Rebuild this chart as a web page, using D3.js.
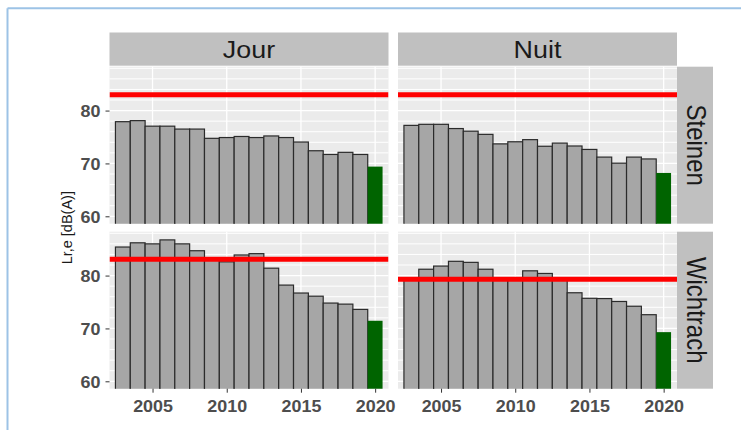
<!DOCTYPE html>
<html><head><meta charset="utf-8">
<script src="https://cdn.jsdelivr.net/npm/d3@7"></script>
<style>body{margin:0;background:#fff}svg{display:block}</style>
</head><body>
<script>
const years = [2003,2004,2005,2006,2007,2008,2009,2010,2011,2012,2013,2014,2015,2016,2017,2018,2019,2020];
const periods = ["Jour","Nuit"];
const sites = ["Steinen","Wichtrach"];
const jourSteinen    = [77.9,78.1,77.05,77.05,76.5,76.5,74.75,74.9,75.1,74.9,75.2,74.9,74.05,72.4,71.7,72.1,71.7,69.4];
const nuitSteinen    = [77.2,77.4,77.4,76.6,76.1,75.5,73.7,74.1,74.5,73.25,73.85,73.3,72.65,71.2,70.05,71.2,70.85,68.2];
const jourWichtrach  = [85.4,86.2,86.0,86.75,86.0,84.7,83.2,82.6,83.9,84.15,81.4,78.2,76.7,76.1,74.8,74.6,73.6,71.45];
const nuitWichtrach  = [79.5,81.2,81.8,82.7,82.5,81.2,79.5,79.4,80.9,80.4,79.5,76.75,75.7,75.65,75.1,74.2,72.6,69.3];
const limits = {Steinen:{Jour:83,Nuit:83}, Wichtrach:{Jour:83.1,Nuit:79.3}};
const yTicks = [60,70,80];
const yGrid = [60,62,64,66,68,70,72,74,76,78,80,82,84,86,88];
const xTicks = [2005,2010,2015,2020];
const yTitle = "Lr,e [dB(A)]";

const series = {Steinen:{Jour:jourSteinen,Nuit:nuitSteinen}, Wichtrach:{Jour:jourWichtrach,Nuit:nuitWichtrach}};

const W=741,H=430;
const svg=d3.select("body").append("svg").attr("width",W).attr("height",H);

// window frame lines
svg.append("line").attr("x1",7.5).attr("x2",W).attr("y1",8.3).attr("y2",8.3).attr("stroke","#9DC3E6").attr("stroke-width",2);
svg.append("line").attr("x1",7.5).attr("x2",7.5).attr("y1",8.3).attr("y2",H).attr("stroke","#9DC3E6").attr("stroke-width",2);

const colX = {Jour:109.5, Nuit:398};
const panelW = 279;
const rowY = {Steinen:66.7, Wichtrach:231.7};
const panelH = 157;
const stripTop = 32.5, stripRight0 = 677, stripRightW = 36;
const SX = 1.12;

const defs = svg.append("defs");

periods.forEach(p=>{
  svg.append("rect").attr("x",colX[p]).attr("y",stripTop).attr("width",panelW).attr("height",rowY.Steinen-1-stripTop).attr("fill","#C0C0C0");
  const cx = colX[p]+panelW/2;
  svg.append("text").attr("transform",`translate(${cx},58.3) scale(1.12,1)`).attr("text-anchor","middle")
    .attr("font-family","Liberation Sans, Arial, sans-serif").attr("font-size",24).attr("fill","#1A1A1A").text(p);
});

sites.forEach(s=>{
  svg.append("rect").attr("x",stripRight0).attr("y",rowY[s]).attr("width",stripRightW).attr("height",panelH).attr("fill","#C0C0C0");
  svg.append("text").attr("transform",`translate(686.5,${rowY[s]+panelH/2}) scale(1.12,1) rotate(90)`).attr("text-anchor","middle")
    .attr("font-family","Liberation Sans, Arial, sans-serif").attr("font-size",24).attr("fill","#1A1A1A").text(s);
});

sites.forEach((s,ri)=>{
  periods.forEach((p,ci)=>{
    const x0=colX[p], y0=rowY[s];
    const x=d3.scaleLinear().domain([2002.1,2020.9]).range([x0,x0+panelW]);
    const y=d3.scaleLinear().domain([58.6,88.3]).range([y0+panelH,y0]);
    const id=`clip-${s}-${p}`;
    defs.append("clipPath").attr("id",id).append("rect").attr("x",x0).attr("y",y0).attr("width",panelW).attr("height",panelH);
    const g=svg.append("g");
    g.append("rect").attr("x",x0).attr("y",y0).attr("width",panelW).attr("height",panelH).attr("fill","#EBEBEB");
    g.selectAll(".hg").data(yGrid).join("line").attr("x1",x0).attr("x2",x0+panelW)
      .attr("y1",d=>y(d)).attr("y2",d=>y(d)).attr("stroke","#fff").attr("stroke-width",d=>d%10===0?1.3:1);
    g.selectAll(".vg").data(xTicks).join("line").attr("y1",y0).attr("y2",y0+panelH)
      .attr("x1",d=>x(d)).attr("x2",d=>x(d)).attr("stroke","#fff").attr("stroke-width",1.3);
    const vals=series[s][p];
    const data=years.map((yr,i)=>({yr,v:vals[i]}));
    const gb=g.append("g").attr("clip-path",`url(#${id})`);
    gb.selectAll("rect.bar").data(data).join("rect").attr("class","bar")
      .attr("x",d=>x(d.yr-0.5)).attr("width",d=>x(d.yr+0.5)-x(d.yr-0.5))
      .attr("y",d=>y(d.v)).attr("height",d=>y(50)-y(d.v))
      .attr("fill",d=>d.yr===2020?"#006400":"#A6A6A6")
      .attr("stroke",d=>d.yr===2020?"none":"#2B2B2B").attr("stroke-width",1.2);
    gb.append("line").attr("x1",x0).attr("x2",x0+panelW).attr("y1",y(limits[s][p])).attr("y2",y(limits[s][p]))
      .attr("stroke","#FF0000").attr("stroke-width",5);

    if(ci===0){
      const ay=svg.append("g").attr("transform",`translate(${x0},0)`)
        .call(d3.axisLeft(y).tickValues(yTicks).tickSize(4).tickPadding(3).tickFormat(d3.format("d")));
      ay.select(".domain").remove();
      ay.selectAll(".tick line").attr("stroke","#333").attr("stroke-width",1);
      ay.selectAll(".tick text").attr("font-family","Liberation Sans, Arial, sans-serif").attr("font-weight","bold")
        .attr("font-size",16).attr("fill","#4D4D4D").attr("x",0).attr("dy","0.36em")
        .attr("transform",`translate(-9,0) scale(${SX},1)`);
    }
    if(ri===1){
      const ax=svg.append("g").attr("transform",`translate(0,${y0+panelH})`)
        .call(d3.axisBottom(x).tickValues(xTicks).tickSize(4).tickPadding(3).tickFormat(d3.format("d")));
      ax.select(".domain").remove();
      ax.selectAll(".tick line").attr("stroke","#333").attr("stroke-width",1);
      ax.selectAll(".tick text").attr("font-family","Liberation Sans, Arial, sans-serif").attr("font-weight","bold")
        .attr("font-size",16).attr("fill","#4D4D4D").attr("y",0).attr("dy",0)
        .attr("transform",`translate(0,23.5) scale(${SX},1)`);
    }
  });
});

const midY=(rowY.Steinen+rowY.Wichtrach+panelH)/2;
svg.append("text").attr("transform",`translate(72,${midY}) rotate(-90)`).attr("text-anchor","middle")
  .attr("font-family","Liberation Sans, Arial, sans-serif").attr("font-size",14.5).attr("fill","#1A1A1A").text(yTitle);
</script>
</body></html>
